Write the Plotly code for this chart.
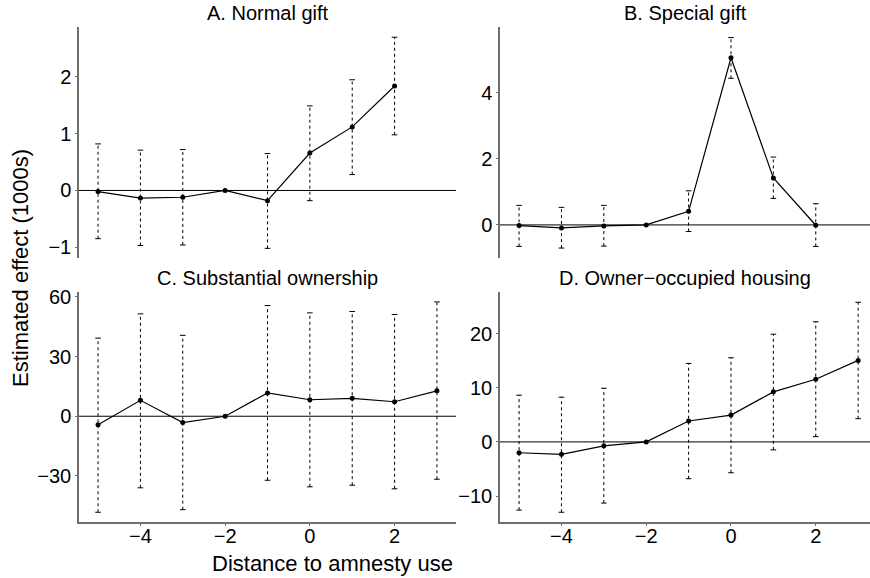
import plotly.graph_objs as go

# event time (distance to amnesty use)
dist = [-5, -4, -3, -2, -1, 0, 1, 2, 3]

# A. Normal gift (no estimate at +3)
a_est = [-0.02, -0.135, -0.12, 0.0, -0.18, 0.66, 1.12, 1.84]
a_lo = [-0.85, -0.97, -0.96, 0.0, -1.02, -0.18, 0.28, 0.98]
a_hi = [0.82, 0.71, 0.72, 0.0, 0.65, 1.49, 1.95, 2.70]

# B. Special gift (no estimate at +3)
b_est = [-0.02, -0.09, -0.03, 0.0, 0.41, 5.05, 1.42, -0.01]
b_lo = [-0.65, -0.70, -0.64, 0.0, -0.20, 4.43, 0.80, -0.65]
b_hi = [0.59, 0.53, 0.59, 0.0, 1.03, 5.66, 2.05, 0.64]

# C. Substantial ownership
c_est = [-4.3, 8.0, -3.2, 0.0, 11.7, 8.3, 9.0, 7.3, 12.8]
c_lo = [-48.3, -36.0, -47.0, 0.0, -32.2, -35.5, -34.7, -36.5, -31.7]
c_hi = [39.3, 51.5, 40.7, 0.0, 55.7, 52.0, 52.7, 51.2, 57.5]

# D. Owner-occupied housing
d_est = [-2.0, -2.3, -0.73, 0.0, 3.86, 4.96, 9.25, 11.57, 15.06]
d_lo = [-12.6, -13.0, -11.3, 0.0, -6.8, -5.7, -1.47, 0.98, 4.29]
d_hi = [8.63, 8.27, 9.92, 0.0, 14.5, 15.55, 19.9, 22.2, 25.8]

panels = [
    ("A. Normal gift", a_est, a_lo, a_hi),
    ("B. Special gift", b_est, b_lo, b_hi),
    ("C. Substantial ownership", c_est, c_lo, c_hi),
    ("D. Owner\u2212occupied housing", d_est, d_lo, d_hi),
]

W, H = 870, 578
FONT = "Liberation Sans, Arial, sans-serif"
AXIS_GREY = "#6e6e6e"

# pixel boxes of each panel: left, right, top, bottom
boxes = [(79, 456, 27, 258), (500, 870, 27, 258), (79, 456, 292, 522), (500, 870, 292, 522)]
yranges = [[-1.19, 2.88], [-1.0, 5.98], [-53.2, 62.5], [-14.8, 27.7]]
ytickvals = [[-1, 0, 1, 2], [0, 2, 4], [-30, 0, 30, 60], [-10, 0, 10, 20]]

fig = go.Figure()

for i, (title, est, lo, hi) in enumerate(panels):
    n = i + 1
    xa = "x" if n == 1 else f"x{n}"
    ya = "y" if n == 1 else f"y{n}"
    xs = dist[:len(est)]

    # dashed confidence intervals (skip the reference period)
    seg_x, seg_y, cap_x, cap_y = [], [], [], []
    for x, l, h in zip(xs, lo, hi):
        if l == h:
            continue
        seg_x += [x, x, None]
        seg_y += [l, h, None]
        cap_x += [x, x]
        cap_y += [l, h]
    fig.add_trace(go.Scatter(x=seg_x, y=seg_y, mode="lines", xaxis=xa, yaxis=ya,
                             line=dict(color="black", width=1, dash="3px,3px"),
                             hoverinfo="skip", showlegend=False))
    fig.add_trace(go.Scatter(x=cap_x, y=cap_y, mode="markers", xaxis=xa, yaxis=ya,
                             marker=dict(symbol="line-ew", size=4,
                                         line=dict(color="black", width=1)),
                             hoverinfo="skip", showlegend=False))
    fig.add_trace(go.Scatter(x=xs, y=est, mode="lines+markers", xaxis=xa, yaxis=ya,
                             line=dict(color="black", width=1.2),
                             marker=dict(color="black", size=5),
                             showlegend=False))

    fig.add_shape(type="line", xref=f"{xa} domain", yref=ya, x0=0, x1=1, y0=0, y1=0,
                  line=dict(color="black", width=1), layer="below")

    l, r, t, b = boxes[i]
    bottom_row = n > 2
    fig.layout[f"xaxis{'' if n == 1 else n}"] = dict(
        domain=[l / W, r / W], anchor=ya, range=[-5.45, 3.45 if n % 2 else 3.28],
        tickvals=[-4, -2, 0, 2], showticklabels=bottom_row, automargin=False,
        showline=bottom_row, linecolor=AXIS_GREY, linewidth=1.5,
        ticks="outside" if bottom_row else "", ticklen=2, tickcolor=AXIS_GREY,
        ticklabelstandoff=-7,
        showgrid=False, zeroline=False, tickfont=dict(size=20, color="black"))
    fig.layout[f"yaxis{'' if n == 1 else n}"] = dict(
        domain=[1 - b / H, 1 - t / H], anchor=xa, range=yranges[i], automargin=False,
        tickvals=ytickvals[i], showline=True, linecolor=AXIS_GREY, linewidth=1.5,
        ticks="outside", ticklen=2, tickcolor=AXIS_GREY,
        showgrid=False, zeroline=False, tickfont=dict(size=20, color="black"))

    fig.add_annotation(text=title, xref="paper", yref="paper",
                       x=(l + r) / 2 / W, y=1 - (t - 14) / H,
                       xanchor="center", yanchor="middle",
                       showarrow=False, font=dict(size=20, color="black"))

fig.add_annotation(text="Distance to amnesty use", xref="paper", yref="paper",
                   x=332 / W, y=1 - 563 / H, xanchor="center", yanchor="middle",
                   showarrow=False, font=dict(size=22, color="black"))
fig.add_annotation(text="Estimated effect (1000s)", xref="paper", yref="paper",
                   x=20 / W, y=1 - 268 / H, xanchor="center", yanchor="middle",
                   textangle=-90, showarrow=False,
                   font=dict(size=22, color="black"))

fig.update_layout(
    width=W, height=H,
    margin=dict(l=0, r=0, t=0, b=0),
    paper_bgcolor="white", plot_bgcolor="white",
    font=dict(family=FONT, color="black"),
)

# the page body has a default 8px margin; drop it so the figure fills the window
fig.write_html("out.html", config={"displayModeBar": False},
               post_script="document.body.style.margin='0';document.body.style.overflow='hidden';")
